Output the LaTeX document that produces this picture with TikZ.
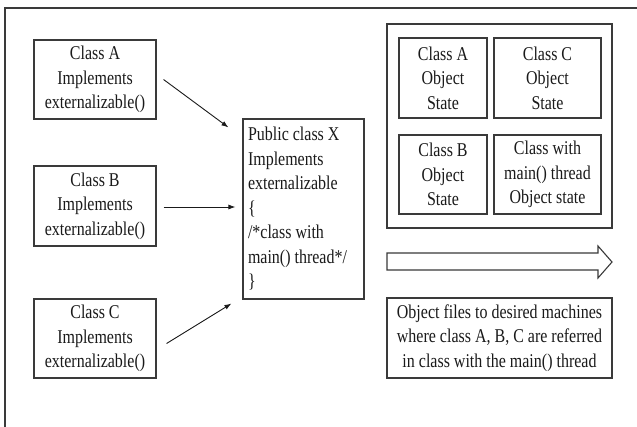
\documentclass[tikz,border=0pt]{standalone}
\usepackage{fontspec}
\setmainfont{Liberation Serif}[FakeStretch=0.82]
\usetikzlibrary{arrows.meta,calc}
\definecolor{edge}{HTML}{3A3A3A}
\definecolor{ink}{HTML}{1A1A1A}
\begin{document}
\begin{tikzpicture}[x=1pt,y=-1pt,
  box/.style={draw=edge,line width=1.1pt,align=center,text=ink,inner sep=0pt,
    font=\fontsize{19.5}{24.5}\selectfont},
  link/.style={draw=ink,line width=0.9pt,-{Latex[length=7pt,width=5pt]}}]
\useasboundingbox (0,0) rectangle (637,426);
\clip (0,0) rectangle (637,426);
\fill[white] (0,0) rectangle (637,426);
% page frame, running off the right and bottom edges
\draw[edge,line width=1.8pt] (5,440) -- (5,8) -- (650,8);

% source classes
\node[box,minimum width=122,minimum height=79] (A) at (95,79.5)
  {Class A\\Implements\\externalizable()};
\node[box,minimum width=122,minimum height=80] (B) at (95,206)
  {Class B\\Implements\\externalizable()};
\node[box,minimum width=122,minimum height=79] (C) at (95,338.5)
  {Class C\\Implements\\externalizable()};

% receiving class
\node[box,minimum width=121,minimum height=180,align=flush left,text width=111] (X) at (303.5,209)
  {Public class X\\Implements\\externalizable\\\{\\/*class with\\main() thread*/\\\}};

\draw[link] ($(A.east)+(7,0)$) -- ($(X.north west)+(-14,9)$);
\draw[link] ($(B.east)+(7,1)$) -- ($(X.west |- B.east)+(-7,1)$);
\draw[link] ($(C.east)+(10,5)$) -- ($(X.south west)+(-11,4)$);

% object states container
\node[box,minimum width=225,minimum height=204] (S) at (499.5,126) {};
\node[box,minimum width=88,minimum height=80] (SA) at (443,78) {Class A\\Object\\State};
\node[box,minimum width=107,minimum height=80] (SC) at (547.5,78) {Class C\\Object\\State};
\node[box,minimum width=88,minimum height=79] (SB) at (443,174.5) {Class B\\Object\\State};
\node[box,minimum width=107,minimum height=79] (SM) at (547.5,174.5) {Class with\\main() thread\\Object state};

% block arrow
\draw[edge,line width=1.1pt,fill=white] (387,253) -- (598,253) -- (598,246) -- (612,262)
  -- (598,278) -- (598,270) -- (387,270) -- cycle;

% destination note
\node[box,minimum width=225,minimum height=80] (N) at (499.5,338)
  {Object files to desired machines\\where class A, B, C are referred\\in class with the main() thread};
\end{tikzpicture}
\end{document}
